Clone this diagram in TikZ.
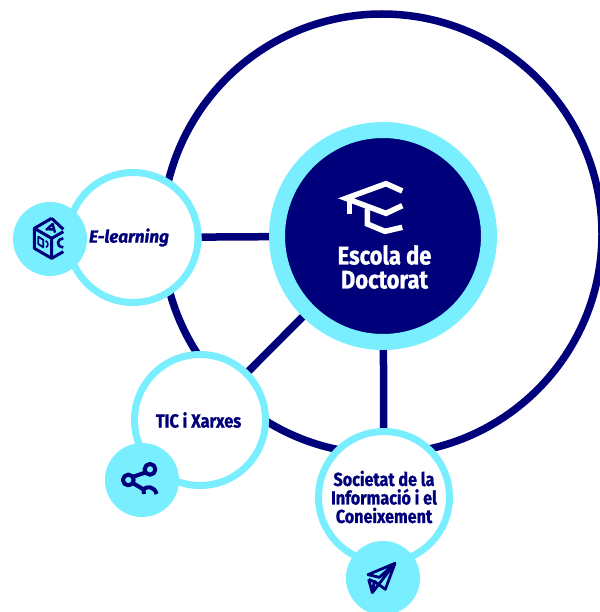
\documentclass[tikz,border=0pt]{standalone}
\usepackage{fontspec}
\setmainfont{Fira Sans}[BoldFont={Fira Sans Bold},BoldItalicFont={Fira Sans Bold Italic},
  BoldFeatures={FakeStretch=0.86,FakeBold=0.9},BoldItalicFeatures={FakeStretch=0.98,FakeBold=1.2}]
\usetikzlibrary{backgrounds}
\definecolor{navy}{RGB}{0,0,122}
\definecolor{skycy}{RGB}{120,238,255}
\tikzset{
  x=1pt,y=-1pt,
  hub/.style={circle,fill=navy,draw=skycy,line width=16pt,minimum size=212pt,inner sep=0pt},
  hubtext/.style={align=center,text=white,font=\bfseries\fontsize{25.5}{24}\selectfont},
  topic/.style={circle,fill=white,draw=skycy,line width=7pt,minimum size=131pt,inner sep=0pt,align=center,text=navy,font=\bfseries\fontsize{19}{19}\selectfont},
  badge/.style={circle,fill=skycy,minimum size=74pt,inner sep=0pt,outer sep=0pt},
  ring/.style={circle,draw=navy,line width=7.5pt,minimum size=440pt,inner sep=0pt},
  link/.style={draw=navy,line width=7.5pt},
  iconline/.style={draw=navy,line width=3pt,line join=round},
  capline/.style={draw=white,line width=5.5pt,line join=miter}
}
\begin{document}
\begin{tikzpicture}
\useasboundingbox (0,0) rectangle (599,612);
\clip (0,0) rectangle (599,612);
\begin{pgfonlayer}{background}
\fill[white] (0,0) rectangle (599,612);
\node[ring] (ring) at (382,234) {};
\end{pgfonlayer}
\node[hub] (hub) at (383,236) {};
\node[topic,minimum size=130pt,font=\bfseries\itshape\fontsize{17.5}{19}\selectfont] (elearn) at (133,237.5) {\hspace{-8pt}E-learning};
\node[topic] (tic) at (200,420) {\hspace{-3pt}TIC i Xarxes};
\node[topic,font=\bfseries\fontsize{18.8}{18.5}\selectfont] (soc) at (384,497) {Societat de la\\Informació i el\\Coneixement};
\begin{pgfonlayer}{background}
\draw[link] (elearn) -- (hub);
\draw[link] (tic) -- (hub);
\draw[link] (soc) -- (hub);
\end{pgfonlayer}
\node[hubtext] (title) at (384.5,267) {Escola de\\Doctorat};
\node[badge] (b1) at (50,239) {};
\node[badge] (b2) at (142,480) {};
\node[badge] (b3) at (383,578) {};
% graduation cap
\begin{scope}[shift={(320,170)},x=0.3333pt,y=-0.3333pt]
\draw[capline] (247,63) -- (198,41) -- (78,85) -- (198,130) -- (247,107);
\draw[capline] (88,88) -- (88,133);
\draw[capline] (142,116) -- (142,162) -- (195,184) -- (247,172);
\end{scope}
% cube
\begin{scope}[shift={(0,190)},x=0.3333pt,y=-0.3333pt]
\draw[iconline] (155,85) -- (103,115) -- (103,175) -- (155,205) -- (190,185) (190,118) -- (155,85);
\draw[iconline] (103,115) -- (155,145) -- (190,125) (155,145) -- (155,205);
\draw[iconline,line width=2.4pt] (138,120) -- (158,102) -- (165,128) (146,118) -- (162,118);
\draw[iconline,line width=1.8pt] (115,140) -- (130,150) -- (130,172) -- (115,162) -- cycle;
\draw[iconline,line width=1.6pt] (137,152) .. controls (146,158) and (146,168) .. (138,172);
\draw[iconline,line width=2.6pt] (190,145) .. controls (172,145) and (165,170) .. (190,172);
\end{scope}
% share
\begin{scope}[shift={(95,400)},x=0.3333pt,y=-0.3333pt]
\draw[iconline,line width=4pt] (100,240) circle[radius=5.4pt] (165,208) circle[radius=5.4pt];
\draw[iconline,line width=4pt] (115,230) -- (150,218) (115,250) -- (145,268) .. controls (155,258) and (178,258) .. (185,282);
\draw[iconline,line width=4pt] (145,268) -- (147,282);
\end{scope}
% paper plane
\begin{scope}[shift={(310,460)},x=0.3333pt,y=-0.3333pt]
\draw[iconline,line width=2.8pt] (255,310) -- (174,344) -- (208,352) -- (255,310) -- (226,388) -- (193,364) -- (187,398) -- (255,310);
\draw[iconline,line width=2.8pt] (176,358) -- (187,398);
\draw[iconline,line width=2.8pt] (176,358) -- (198,368);
\end{scope}
\end{tikzpicture}
\end{document}
